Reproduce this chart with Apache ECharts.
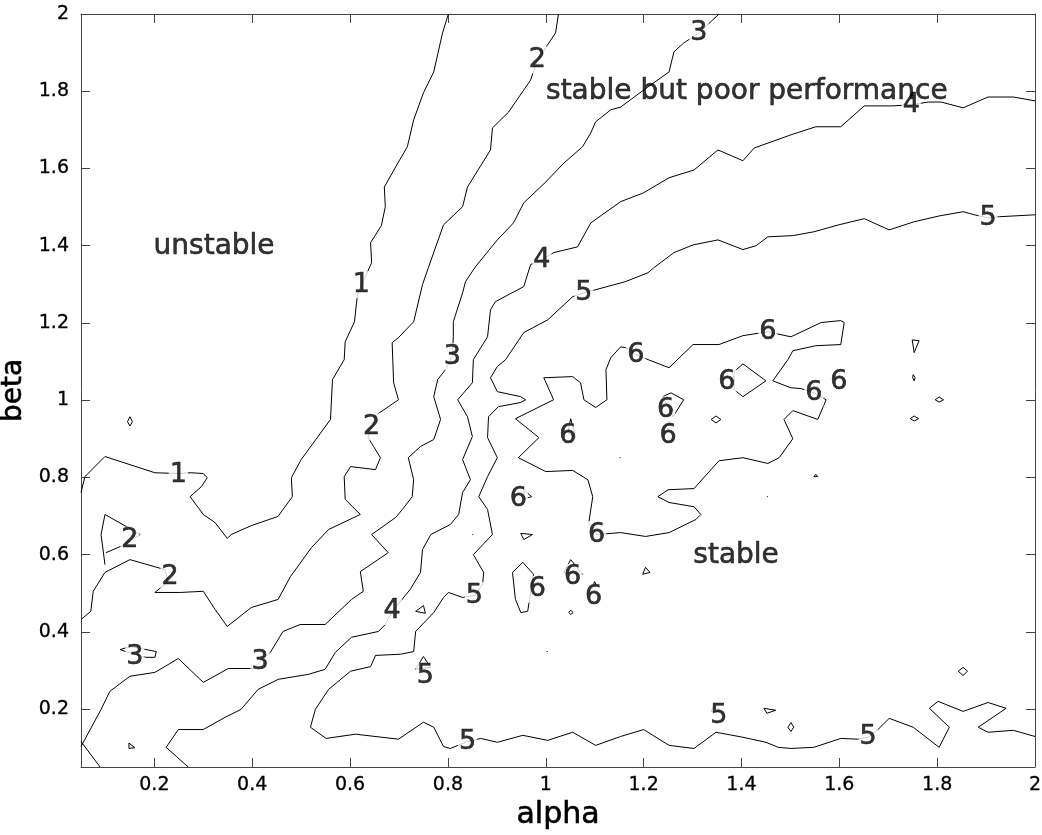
<!DOCTYPE html>
<html>
<head>
<meta charset="utf-8">
<script src="https://cdn.jsdelivr.net/npm/echarts@6/dist/echarts.min.js"></script>
<style>
  html, body { margin: 0; padding: 0; background: #fff; }
  #chart { width: 1042px; height: 835px; }
</style>
</head>
<body>
<div id="chart"></div>
<script>
// tick values (both axes)
const xTicks = [0.2, 0.4, 0.6, 0.8, 1, 1.2, 1.4, 1.6, 1.8, 2];
const yTicks = [0.2, 0.4, 0.6, 0.8, 1, 1.2, 1.4, 1.6, 1.8, 2];

// contour level 1  [alpha, beta]
const level1 = [
  [0.801, 2.0], [0.789, 1.951], [0.771, 1.850], [0.750, 1.796], [0.730, 1.726], [0.717, 1.656],
  [0.699, 1.617], [0.670, 1.552], [0.672, 1.501], [0.664, 1.452], [0.642, 1.408], [0.644, 1.356],
  [0.635, 1.330], [0.623, 1.299], [0.615, 1.273], [0.609, 1.203], [0.590, 1.151], [0.588, 1.105],
  [0.564, 1.053], [0.560, 0.950], [0.500, 0.846], [0.480, 0.799], [0.482, 0.750], [0.463, 0.717],
  [0.453, 0.699], [0.398, 0.675], [0.357, 0.652], [0.349, 0.642], [0.324, 0.683], [0.300, 0.704],
  [0.273, 0.750], [0.296, 0.776], [0.308, 0.799], [0.300, 0.810], [0.275, 0.812], [0.249, 0.810],
  [0.201, 0.812], [0.099, 0.854], [0.058, 0.802], [0.050, 0.761]
];

// contour level 2
const level2 = [
  [1.026, 2.0], [1.020, 1.951], [0.983, 1.881], [0.969, 1.829], [0.924, 1.746], [0.891, 1.705],
  [0.887, 1.648], [0.840, 1.552], [0.830, 1.501], [0.791, 1.454], [0.760, 1.343], [0.748, 1.299],
  [0.730, 1.203], [0.699, 1.162], [0.686, 1.149], [0.689, 1.045], [0.699, 1.001], [0.654, 0.962],
  [0.644, 0.931], [0.637, 0.903], [0.648, 0.880], [0.662, 0.851], [0.652, 0.820], [0.601, 0.828],
  [0.588, 0.802], [0.590, 0.743], [0.621, 0.704], [0.556, 0.665], [0.521, 0.618], [0.478, 0.543],
  [0.453, 0.484], [0.398, 0.463], [0.349, 0.414], [0.324, 0.458], [0.300, 0.505], [0.253, 0.502],
  [0.201, 0.502], [0.228, 0.530], [0.222, 0.561], [0.150, 0.587], [0.099, 0.554], [0.075, 0.505],
  [0.070, 0.453], [0.050, 0.432]
];
const level2b = [
  [0.099, 0.574], [0.091, 0.652], [0.099, 0.704], [0.171, 0.652], [0.136, 0.624], [0.101, 0.605]
];

// contour level 3
const level3 = [
  [1.354, 2.0], [1.313, 1.951], [1.282, 1.925], [1.262, 1.902], [1.252, 1.850], [1.200, 1.803],
  [1.153, 1.759], [1.133, 1.752], [1.102, 1.721], [1.092, 1.692], [1.075, 1.656], [1.037, 1.614],
  [1.000, 1.565], [0.955, 1.511], [0.934, 1.459], [0.901, 1.415], [0.856, 1.345], [0.836, 1.307],
  [0.830, 1.278], [0.811, 1.203], [0.811, 1.164], [0.809, 1.113], [0.795, 1.079], [0.779, 1.053],
  [0.771, 1.009], [0.785, 0.950], [0.771, 0.898], [0.744, 0.880], [0.719, 0.851], [0.730, 0.794],
  [0.727, 0.750], [0.707, 0.717], [0.693, 0.696], [0.644, 0.652], [0.678, 0.605], [0.621, 0.556],
  [0.627, 0.505], [0.603, 0.484], [0.549, 0.419], [0.498, 0.419], [0.463, 0.401], [0.437, 0.347],
  [0.416, 0.323], [0.402, 0.305], [0.351, 0.305], [0.300, 0.269], [0.249, 0.331], [0.201, 0.295],
  [0.150, 0.285], [0.109, 0.246], [0.091, 0.199], [0.050, 0.103]
];

// contour level 4
const level4 = [
  [2.0, 1.775], [1.956, 1.785], [1.904, 1.785], [1.853, 1.757], [1.808, 1.772], [1.782, 1.772],
  [1.747, 1.765], [1.710, 1.762], [1.651, 1.762], [1.603, 1.708], [1.552, 1.708], [1.501, 1.687],
  [1.426, 1.653], [1.403, 1.620], [1.352, 1.648], [1.303, 1.596], [1.252, 1.576], [1.200, 1.537],
  [1.153, 1.514], [1.092, 1.459], [1.065, 1.397], [1.016, 1.382], [0.992, 1.364], [0.969, 1.351],
  [0.955, 1.294], [0.897, 1.255], [0.887, 1.234], [0.881, 1.164], [0.852, 1.105], [0.850, 1.045],
  [0.820, 1.001], [0.840, 0.957], [0.850, 0.906], [0.830, 0.846], [0.846, 0.794], [0.830, 0.761],
  [0.822, 0.704], [0.805, 0.678], [0.765, 0.652], [0.748, 0.613], [0.744, 0.554], [0.723, 0.510],
  [0.686, 0.453], [0.672, 0.419], [0.658, 0.401], [0.603, 0.386], [0.570, 0.347], [0.549, 0.303],
  [0.515, 0.290], [0.453, 0.277], [0.412, 0.251], [0.377, 0.199], [0.345, 0.179], [0.300, 0.147],
  [0.249, 0.147], [0.224, 0.101], [0.269, 0.05]
];
const level4b = [[0.050, 0.116], [0.089, 0.05]];

// contour level 5
const level5 = [
  [2.0, 1.480], [1.927, 1.475], [1.904, 1.472], [1.876, 1.480], [1.853, 1.488], [1.804, 1.477],
  [1.753, 1.462], [1.702, 1.441], [1.651, 1.470], [1.599, 1.454], [1.548, 1.436], [1.505, 1.426],
  [1.454, 1.423], [1.430, 1.400], [1.403, 1.390], [1.352, 1.415], [1.301, 1.402], [1.262, 1.382],
  [1.221, 1.343], [1.209, 1.330], [1.163, 1.307], [1.102, 1.286], [1.078, 1.278], [1.055, 1.268],
  [1.004, 1.208], [0.955, 1.175], [0.918, 1.105], [0.901, 1.087], [0.887, 1.058], [0.901, 1.022],
  [0.949, 1.009], [0.959, 1.001], [0.949, 0.994], [0.903, 0.983], [0.883, 0.957], [0.881, 0.903],
  [0.901, 0.851], [0.881, 0.802], [0.863, 0.750], [0.881, 0.717], [0.891, 0.652], [0.852, 0.600],
  [0.873, 0.554], [0.871, 0.523], [0.854, 0.494], [0.830, 0.489], [0.801, 0.502], [0.791, 0.489],
  [0.771, 0.450], [0.734, 0.401], [0.730, 0.349], [0.703, 0.342], [0.652, 0.339], [0.642, 0.310],
  [0.601, 0.298], [0.556, 0.251], [0.529, 0.199], [0.519, 0.153], [0.551, 0.124], [0.611, 0.135],
  [0.699, 0.122], [0.750, 0.166], [0.771, 0.153], [0.791, 0.103], [0.805, 0.098], [0.840, 0.116],
  [0.867, 0.124], [0.901, 0.114], [0.953, 0.132], [1.004, 0.119], [1.055, 0.140], [1.102, 0.106],
  [1.153, 0.129], [1.200, 0.147], [1.252, 0.106], [1.303, 0.098], [1.348, 0.140], [1.403, 0.127],
  [1.450, 0.114], [1.475, 0.101], [1.501, 0.098], [1.548, 0.101], [1.603, 0.124], [1.638, 0.122],
  [1.659, 0.127], [1.679, 0.147], [1.702, 0.176], [1.751, 0.153], [1.804, 0.101], [1.825, 0.153],
  [1.784, 0.202], [1.802, 0.220], [1.853, 0.194], [1.904, 0.217], [1.941, 0.202], [1.884, 0.153],
  [1.904, 0.140], [1.956, 0.145], [2.0, 0.129]
];

// contour level 6 (closed region)
const level6 = [
  [0.996, 1.058], [1.055, 1.061], [1.071, 1.045], [1.078, 1.001], [1.102, 0.981], [1.125, 1.001],
  [1.123, 1.079], [1.133, 1.110], [1.153, 1.138], [1.163, 1.136], [1.184, 1.118], [1.209, 1.105],
  [1.252, 1.084], [1.301, 1.144], [1.354, 1.144], [1.403, 1.167], [1.454, 1.177], [1.501, 1.164],
  [1.563, 1.201], [1.603, 1.206], [1.610, 1.201], [1.603, 1.144], [1.552, 1.141], [1.505, 1.128],
  [1.495, 1.105], [1.464, 1.050], [1.501, 1.032], [1.522, 1.030], [1.548, 1.019], [1.573, 1.001],
  [1.556, 0.950], [1.505, 0.973], [1.487, 0.950], [1.505, 0.900], [1.477, 0.851], [1.454, 0.836],
  [1.403, 0.851], [1.354, 0.843], [1.303, 0.771], [1.250, 0.768], [1.229, 0.750], [1.252, 0.735],
  [1.303, 0.724], [1.317, 0.704], [1.307, 0.691], [1.252, 0.657], [1.204, 0.647], [1.153, 0.657],
  [1.104, 0.652], [1.088, 0.683], [1.096, 0.750], [1.086, 0.794], [1.055, 0.818], [1.000, 0.815],
  [0.944, 0.851], [0.986, 0.903], [0.938, 0.952], [1.016, 1.001], [0.996, 1.058]
];

// small closed contours (islands)
const islands = [
  [[0.150, 0.957], [0.155, 0.944], [0.150, 0.933], [0.145, 0.944]],
  [[0.148, 0.112], [0.160, 0.100], [0.148, 0.098]],
  [[0.183, 0.334], [0.201, 0.334], [0.204, 0.349], [0.150, 0.362], [0.130, 0.354], [0.150, 0.345]],
  [[0.734, 0.453], [0.750, 0.468], [0.754, 0.448]],
  [[0.734, 0.303], [0.750, 0.336], [0.765, 0.308]],
  [[1.338, 0.194], [1.344, 0.210], [1.360, 0.194]],
  [[1.446, 0.202], [1.470, 0.197], [1.452, 0.189]],
  [[1.501, 0.165], [1.507, 0.153], [1.501, 0.142], [1.495, 0.153]],
  [[1.853, 0.308], [1.862, 0.298], [1.853, 0.287], [1.843, 0.298]],
  [[1.403, 1.094], [1.450, 1.050], [1.403, 1.009], [1.385, 1.027], [1.385, 1.074]],
  [[1.239, 1.009], [1.256, 1.019], [1.282, 1.001], [1.260, 0.957]],
  [[1.248, 0.935], [1.252, 0.945], [1.257, 0.935]],
  [[1.051, 0.952], [1.061, 0.903], [1.045, 0.915]],
  [[0.955, 0.768], [0.971, 0.750], [0.957, 0.745]],
  [[1.338, 0.950], [1.348, 0.959], [1.358, 0.950], [1.348, 0.941]],
  [[0.949, 0.655], [0.973, 0.652], [0.955, 0.639]],
  [[0.932, 0.554], [0.953, 0.580], [0.975, 0.549], [0.963, 0.453], [0.949, 0.450], [0.938, 0.484]],
  [[1.051, 0.587], [1.037, 0.554], [1.075, 0.549]],
  [[1.096, 0.518], [1.100, 0.530], [1.104, 0.518]],
  [[1.047, 0.450], [1.051, 0.456], [1.056, 0.450], [1.051, 0.445]],
  [[1.204, 0.567], [1.198, 0.549], [1.213, 0.554]],
  [[1.749, 1.156], [1.763, 1.154], [1.753, 1.123]],
  [[1.751, 1.066], [1.755, 1.058], [1.753, 1.050], [1.750, 1.058]],
  [[1.796, 1.001], [1.804, 1.008], [1.813, 1.001], [1.804, 0.995]],
  [[1.745, 0.952], [1.753, 0.959], [1.762, 0.952], [1.753, 0.946]],
  [[1.548, 0.802], [1.552, 0.808], [1.556, 0.802], [1.552, 0.797]],
  [[0.850, 0.652], [0.852, 0.652]],
  [[1.002, 0.349], [1.004, 0.349]],
  [[1.151, 0.851], [1.153, 0.851]],
  [[1.452, 0.750], [1.454, 0.750]]
];

// contour labels [alpha, beta, level]
const contourLabels = [
  [0.623, 1.299, '1'], [0.249, 0.807, '1'],
  [0.983, 1.881, '2'], [0.644, 0.931, '2'], [0.232, 0.541, '2'], [0.150, 0.637, '2'],
  [1.313, 1.951, '3'], [0.809, 1.113, '3'], [0.416, 0.323, '3'], [0.160, 0.334, '3'],
  [1.747, 1.765, '4'], [0.992, 1.364, '4'], [0.686, 0.453, '4'],
  [1.904, 1.472, '5'], [1.078, 1.278, '5'], [0.854, 0.494, '5'], [0.754, 0.285, '5'],
  [0.840, 0.116, '5'], [1.354, 0.181, '5'], [1.659, 0.127, '5'],
  [1.184, 1.118, '6'], [1.454, 1.177, '6'], [1.370, 1.048, '6'], [1.548, 1.019, '6'],
  [1.599, 1.048, '6'], [1.245, 0.975, '6'], [1.250, 0.906, '6'], [1.045, 0.906, '6'],
  [0.944, 0.743, '6'], [1.104, 0.652, '6'], [0.983, 0.510, '6'], [1.055, 0.541, '6'],
  [1.098, 0.489, '6']
];

// region annotations
const regionNotes = [
  [0.322, 1.397, 'unstable'],
  [1.411, 1.798, 'stable but poor performance'],
  [1.389, 0.598, 'stable']
];

const FONT = 'DejaVu Sans';
const myChart = echarts.init(document.getElementById('chart'));

function contourSeries(points) {
  return {
    type: 'line',
    data: points,
    showSymbol: false,
    symbol: 'none',
    silent: true,
    z: 2,
    lineStyle: { color: '#000', width: 1 }
  };
}

let series = [level1, level2, level2b, level3, level4, level4b, level5, level6].map(contourSeries);
islands.forEach((poly) => {
  series.push(contourSeries(poly.concat([poly[0]])));
});

// black text, slightly thickened to match the heavier reference glyphs
const ink = { color: '#000', textBorderColor: '#000', textBorderWidth: 0.6 };

series.push({
  type: 'scatter',
  data: contourLabels,
  symbolSize: 1,
  itemStyle: { color: 'rgba(0,0,0,0)' },
  silent: true,
  z: 5,
  label: Object.assign({
    show: true,
    position: 'inside',
    formatter: (p) => p.value[2],
    fontFamily: FONT,
    fontSize: 27,
    backgroundColor: '#fff',
    padding: [0, 1]
  }, ink)
});

series.push({
  type: 'scatter',
  data: regionNotes,
  symbolSize: 1,
  itemStyle: { color: 'rgba(0,0,0,0)' },
  silent: true,
  z: 6,
  label: Object.assign({
    show: true,
    position: 'inside',
    formatter: (p) => p.value[2],
    fontFamily: FONT,
    fontSize: 28
  }, ink)
});

const frameLine = { show: true, lineStyle: { color: '#444', width: 1 } };

myChart.setOption({
  animation: false,
  backgroundColor: '#fff',
  grid: { left: 81, right: 7, top: 14, bottom: 68, containLabel: false, outerBoundsMode: 'none' },
  xAxis: [
    {
      type: 'value', min: 0.05, max: 2, position: 'bottom',
      axisLine: frameLine,
      axisTick: { show: true, inside: true, length: 9, customValues: xTicks, lineStyle: { color: '#444' } },
      axisLabel: Object.assign({ customValues: xTicks, fontFamily: FONT, fontSize: 19, margin: 9 }, ink, { textBorderWidth: 0.3 }),
      splitLine: { show: false },
      name: 'alpha', nameLocation: 'middle', nameGap: 33,
      nameTextStyle: Object.assign({ fontFamily: FONT, fontSize: 30 }, ink)
    },
    {
      type: 'value', min: 0.05, max: 2, position: 'top',
      axisLine: frameLine,
      axisTick: { show: true, inside: true, length: 9, customValues: xTicks, lineStyle: { color: '#444' } },
      axisLabel: { show: false },
      splitLine: { show: false }
    }
  ],
  yAxis: [
    {
      type: 'value', min: 0.05, max: 2, position: 'left',
      axisLine: frameLine,
      axisTick: { show: true, inside: true, length: 9, customValues: yTicks, lineStyle: { color: '#444' } },
      axisLabel: Object.assign({ customValues: yTicks, fontFamily: FONT, fontSize: 19, margin: 12 }, ink, { textBorderWidth: 0.3 }),
      splitLine: { show: false },
      name: 'beta', nameLocation: 'middle', nameGap: 36,
      nameTextStyle: Object.assign({ fontFamily: FONT, fontSize: 28 }, ink)
    },
    {
      type: 'value', min: 0.05, max: 2, position: 'right',
      axisLine: frameLine,
      axisTick: { show: true, inside: true, length: 9, customValues: yTicks, lineStyle: { color: '#444' } },
      axisLabel: { show: false },
      splitLine: { show: false }
    }
  ],
  series: series
});
</script>
</body>
</html>
